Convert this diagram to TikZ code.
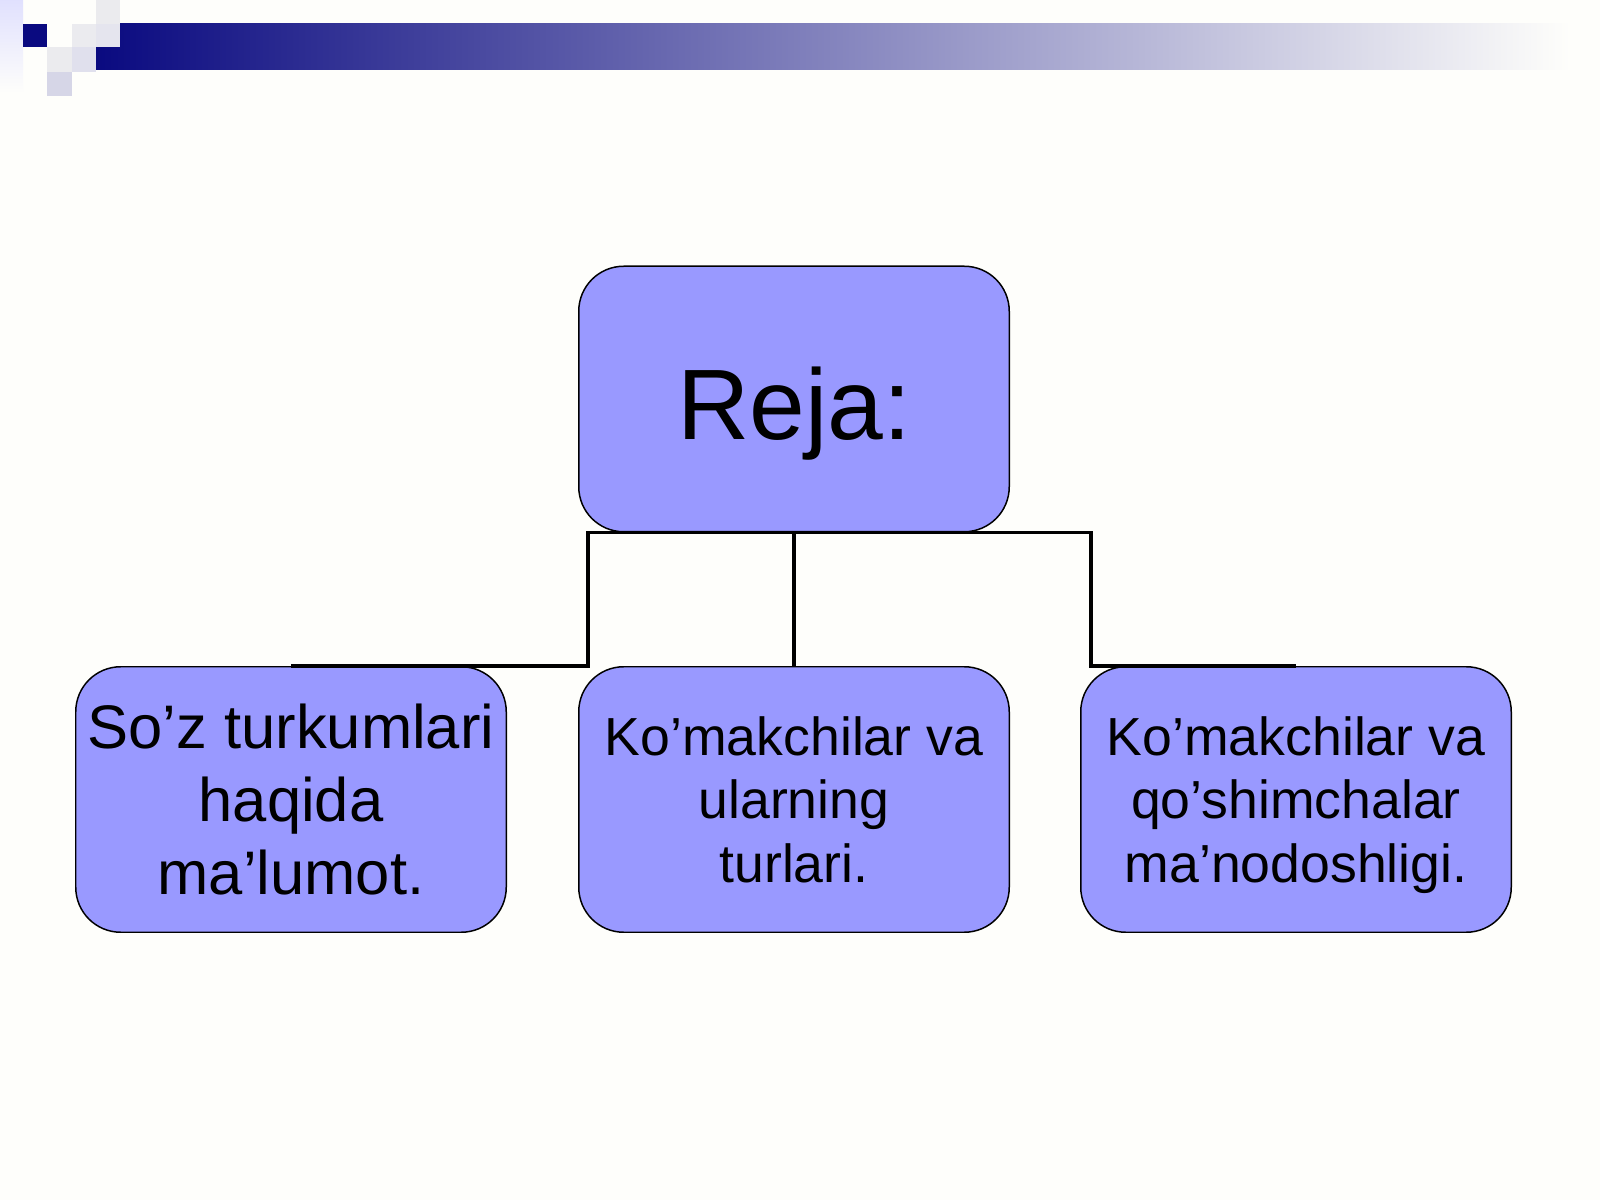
\documentclass[tikz,border=0pt]{standalone}
\usepackage{fontspec}
\setmainfont{Liberation Sans}
\usepackage{xcolor}
\definecolor{planblue}{HTML}{9999FF}
\definecolor{barnavy}{HTML}{0A0A80}
\definecolor{paper}{HTML}{FEFEFB}
\newcommand{\boxcolor}{planblue}
\newcommand{\planbox}[5][]{
    % Rounded Plan Box
    % \planbox[extra keys]{name}{position}{font}{text}
    % example:
    %   \planbox{b}{(0,0)}{\fontsize{36}{43}\selectfont}{Text}
    %   \draw (b.south) -- ++(0,-0.5);
    \node (#2) [planshape,fill=\boxcolor,font=#4,#1] at #3 {#5};
}
\newcommand{\tile}[3]{
    % Decoration Square
    % \tile{colour}{corner}{corner}
    \fill[#1] #2 rectangle #3;
}
\newcommand{\cnode}[1]{
    % Connection Node (for Referencing, not Visible)
    % \cnode{name}
    node (#1) [inner sep=0cm,minimum size=0cm] {}
}
\tikzset{
  planshape/.style={draw,line width=0.85pt,rounded corners=0.9cm,
    minimum width=8.61cm,minimum height=5.31cm,inner sep=0pt,align=center},
  wire/.style={line width=2.2pt,line join=miter}
}

\begin{document}
\begin{tikzpicture}
  \useasboundingbox[fill=paper] (0,0) rectangle (32,-24);
  % title bar
  \shade[left color=barnavy,right color=paper] (1.92,-0.48) rectangle (31.4,-1.40);
  \shade[top color=black!4!blue!12!white,bottom color=paper] (0,0) rectangle (0.46,-1.86);
  \tile{barnavy}{(0.46,-0.48)}{(0.94,-0.94)}
  \tile{blue!18!black!8!white}{(0.94,-0.94)}{(1.44,-1.44)}
  \tile{blue!20!black!8!white}{(1.44,-0.48)}{(1.92,-0.94)}
  \tile{blue!40!black!12!white}{(1.44,-0.94)}{(1.92,-1.44)}
  \tile{blue!18!black!8!white}{(1.92,0)}{(2.40,-0.48)}
  \tile{blue!34!black!10!white}{(1.92,-0.48)}{(2.40,-0.94)}
  \tile{blue!42!black!16!white}{(0.94,-1.44)}{(1.44,-1.92)}

  \planbox[text height=58pt,text depth=12pt]{reja}{(15.88,-7.98)}
      {\fontsize{57}{68}\selectfont}{Reja:}
  \planbox[text depth=-8pt]{leftBox}{(5.82,-15.99)}
      {\fontsize{35}{41.5}\selectfont}{So’z turkumlari\\haqida\\ma’lumot.}
  \planbox[text depth=-3pt]{midBox}{(15.88,-15.99)}
      {\fontsize{30.5}{36}\selectfont}{Ko’makchilar va\\ularning\\turlari.}
  \planbox[text depth=-3pt]{rightBox}{(25.92,-15.99)}
      {\fontsize{30.5}{36}\selectfont}{Ko’makchilar va\\qo’shimchalar\\ma’nodoshligi.}

  \path (midBox.north west) ++(0.2,0) \cnode{bendL};
  \path (rightBox.north west) ++(0.22,0) \cnode{bendR};
  \draw[wire] (leftBox.north) -- (bendL.center) |- (reja.south)
      -| (bendR.center) -- (rightBox.north);
  \draw[wire] (reja.south) -- (midBox.north);
\end{tikzpicture}
\end{document}
